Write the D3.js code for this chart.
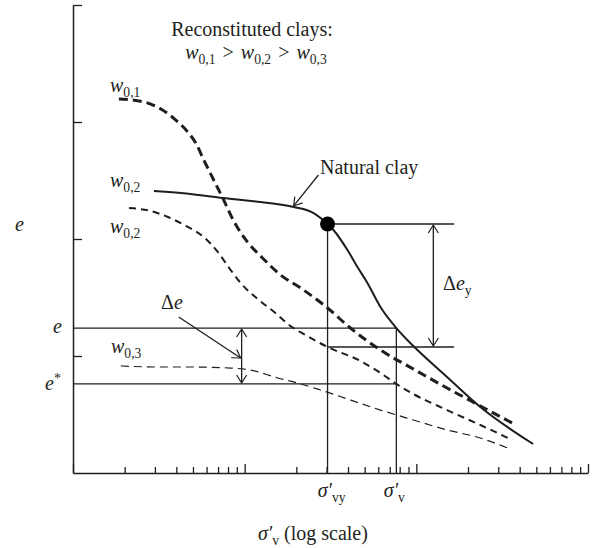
<!DOCTYPE html>
<html>
<head>
<meta charset="utf-8">
<script src="https://cdn.jsdelivr.net/npm/d3@7"></script>
<style>
  body { margin: 0; background: #fff; }
  text { font-family: "Liberation Serif", "Times New Roman", serif; fill: #231f20; }
</style>
</head>
<body>
<script>
// curves as [sigma'v (log scale units), e]
const naturalClay = [[2.96,2.41],[4.85,2.385],[7.45,2.35],[12.4,2.316],[19.3,2.274],[25.2,2.222],[30.4,2.128],
  [32.9,2.077],[39.7,1.906],[45.4,1.761],[51.9,1.624],[61.8,1.419],[76.5,1.239],[96.1,1.085],[151,0.821],[236,0.564],[479,0.248]];
const w01 = [[1.85,3.197],[2.59,3.171],[3.25,3.111],[3.97,3.017],[4.66,2.915],[5.19,2.821],[5.78,2.675],[6.6,2.504],
  [7.55,2.333],[8.63,2.154],[10.4,1.974],[12.7,1.838],[16.2,1.692],[21.2,1.581],[30.4,1.41],[41.3,1.239],[61.8,1.051],
  [96.1,0.889],[151,0.726],[236,0.573],[362,0.427]];
const w02 = [[2.12,2.265],[2.84,2.239],[3.57,2.188],[4.66,2.103],[5.78,2.017],[6.97,1.889],[8.29,1.735],[9.48,1.624],
  [11.9,1.487],[15.1,1.368],[18.5,1.256],[22.6,1.179],[30.4,1.077],[47.3,0.957],[61.8,0.855],[76.5,0.761],[96.1,0.675],
  [151,0.538],[236,0.41],[362,0.282]];
const w03 = [[1.9,0.915],[3.12,0.906],[4.85,0.906],[8.29,0.897],[10.8,0.88],[15.6,0.812],[20.3,0.769],[27.7,0.709],
  [61.8,0.538],[96.1,0.453],[151,0.368],[236,0.299],[340,0.214]];

const yieldPoint = [30.4, 2.128];   // sigma'vy, e at yield
const sigmaV = 76.5;
const eLevel = 1.239;
const eStar = 0.761;
const eAtYieldRecon = 1.077;
const deltaEx = 9.6;
const deltaEyX = 125.6;
const deltaEyEnd = 166;
const yTicks = [1, 2, 3, 4];

const svg = d3.select("body").append("svg")
  .attr("width", 601)
  .attr("height", 548);

const x = d3.scaleLog().domain([1, 1000]).range([73, 588]);
const y = d3.scaleLinear().domain([0, 4]).range([473, 5]);

const ink = "#1e1e1e";

// arrowhead
const defs = svg.append("defs");
defs.append("marker")
  .attr("id", "vee")
  .attr("viewBox", "-10 -6 12 12")
  .attr("refX", 0).attr("refY", 0)
  .attr("markerUnits", "userSpaceOnUse")
  .attr("markerWidth", 12).attr("markerHeight", 12)
  .attr("orient", "auto-start-reverse")
  .append("path")
  .attr("d", "M-8,-5 L0,0 L-8,5")
  .attr("fill", "none")
  .attr("stroke", ink)
  .attr("stroke-width", 1.2);

// axes
const xAxis = svg.append("g")
  .attr("transform", `translate(0,${y(0)})`)
  .call(d3.axisBottom(x).tickSizeInner(-7).tickSizeOuter(0).tickFormat(""));
xAxis.selectAll(".tick line")
  .attr("y2", d => Math.abs(Math.log10(d) - Math.round(Math.log10(d))) < 1e-9 ? -9 : -6);

const yAxis = svg.append("g")
  .attr("transform", `translate(${x(1)},0)`)
  .call(d3.axisLeft(y).tickValues(yTicks).tickSizeInner(-9).tickSizeOuter(0).tickFormat(""));

svg.selectAll(".domain").attr("stroke", ink).attr("stroke-width", 1.5);
svg.selectAll(".tick line").attr("stroke", ink).attr("stroke-width", 1.3);

const line = d3.line()
  .x(d => x(d[0]))
  .y(d => y(d[1]))
  .curve(d3.curveMonotoneX);

// reference lines
const refLines = [
  [[1, eLevel], [sigmaV, eLevel]],
  [[1, eStar], [sigmaV, eStar]],
  [[yieldPoint[0], yieldPoint[1]], [deltaEyEnd, yieldPoint[1]]],
  [[yieldPoint[0], eAtYieldRecon], [deltaEyEnd, eAtYieldRecon]],
  [[yieldPoint[0], yieldPoint[1]], [yieldPoint[0], 0]],
  [[sigmaV, eLevel], [sigmaV, 0]]
];
svg.selectAll(".ref")
  .data(refLines)
  .enter().append("path")
  .attr("class", "ref")
  .attr("d", d3.line().x(d => x(d[0])).y(d => y(d[1])))
  .attr("fill", "none")
  .attr("stroke", ink)
  .attr("stroke-width", 1.3);

// curves
svg.append("path").datum(w03).attr("d", line)
  .attr("fill", "none").attr("stroke", ink).attr("stroke-width", 1.2).attr("stroke-dasharray", "8,5");
svg.append("path").datum(w02).attr("d", line)
  .attr("fill", "none").attr("stroke", ink).attr("stroke-width", 2).attr("stroke-dasharray", "7,5");
svg.append("path").datum(w01).attr("d", line)
  .attr("fill", "none").attr("stroke", ink).attr("stroke-width", 3).attr("stroke-dasharray", "9,5");
svg.append("path").datum(naturalClay).attr("d", line)
  .attr("fill", "none").attr("stroke", ink).attr("stroke-width", 2);

svg.append("circle")
  .attr("cx", x(yieldPoint[0]))
  .attr("cy", y(yieldPoint[1]))
  .attr("r", 7.5)
  .attr("fill", "#000");

// double arrows
const arrow = (x1, y1, x2, y2, both) => svg.append("line")
  .attr("x1", x1).attr("y1", y1).attr("x2", x2).attr("y2", y2)
  .attr("stroke", ink).attr("stroke-width", 1.3)
  .attr("marker-end", "url(#vee)")
  .attr("marker-start", both ? "url(#vee)" : null);

arrow(x(deltaEx), y(eLevel) + 1, x(deltaEx), y(eStar) - 1, true);
arrow(x(deltaEyX), y(yieldPoint[1]) + 1, x(deltaEyX), y(eAtYieldRecon) - 1, true);
// leaders
arrow(x(4.13), y(1.333), x(deltaEx) - 1, y(0.983), false);
arrow(x(26.9), y(2.547), x(19.3), y(2.274) - 1, false);

// labels
function wLabel(px, py, sub, size) {
  const t = svg.append("text").attr("x", px).attr("y", py).style("font-size", size + "px");
  t.append("tspan").style("font-style", "italic").text("w");
  t.append("tspan").attr("dy", 5).style("font-size", (size * 0.68) + "px").text(sub);
  return t;
}

svg.append("text").attr("x", 252).attr("y", 36).attr("text-anchor", "middle")
  .style("font-size", "20px").text("Reconstituted clays:");

const cmp = svg.append("text").attr("x", 256).attr("y", 59).attr("text-anchor", "middle")
  .style("font-size", "20px");
["0,1", "0,2", "0,3"].forEach((s, i) => {
  cmp.append("tspan").attr("dy", i === 0 ? 0 : -5).attr("dx", i === 0 ? 0 : 7)
    .style("font-style", "italic").text("w");
  cmp.append("tspan").attr("dy", 5).style("font-size", "13.6px").text(s);
  if (i < 2) cmp.append("tspan").attr("dy", -5).attr("dx", 7).text(">");
});
cmp.selectAll("tspan").filter((d, i) => i === 3 || i === 6).attr("dy", 0);

wLabel(110, 92, "0,1", 20);
wLabel(110, 187, "0,2", 20);
wLabel(110, 233, "0,2", 20);
wLabel(111, 353, "0,3", 20);

svg.append("text").attr("x", 320).attr("y", 174).style("font-size", "20px").text("Natural clay");

const de = svg.append("text").attr("x", 161).attr("y", 309).style("font-size", "20px");
de.append("tspan").text("\u0394");
de.append("tspan").style("font-style", "italic").text("e");

const dey = svg.append("text").attr("x", 443).attr("y", 290).style("font-size", "20px");
dey.append("tspan").text("\u0394");
dey.append("tspan").style("font-style", "italic").text("e");
dey.append("tspan").attr("dy", 5).style("font-size", "13.6px").text("y");

svg.append("text").attr("x", 15).attr("y", 231).style("font-size", "20px")
  .style("font-style", "italic").text("e");
svg.append("text").attr("x", 62).attr("y", y(eLevel) + 5).attr("text-anchor", "end")
  .style("font-size", "20px").style("font-style", "italic").text("e");
const es = svg.append("text").attr("x", 45).attr("y", y(eStar) + 6).style("font-size", "20px");
es.append("tspan").style("font-style", "italic").text("e");
es.append("tspan").attr("dy", -7).style("font-size", "14px").text("*");

function sigmaLabel(px, py, sub) {
  const t = svg.append("text").attr("x", px).attr("y", py).attr("text-anchor", "middle")
    .style("font-size", "20px");
  t.append("tspan").style("font-style", "italic").text("\u03c3\u2032");
  t.append("tspan").attr("dy", 5).style("font-size", "13.6px").text(sub);
  return t;
}
sigmaLabel(x(yieldPoint[0]) + 4, 497, "vy");
sigmaLabel(x(sigmaV) - 2, 497, "v");

const xt = svg.append("text").attr("x", 258).attr("y", 540).style("font-size", "20px");
xt.append("tspan").style("font-style", "italic").text("\u03c3\u2032");
xt.append("tspan").attr("dy", 5).style("font-size", "13.6px").text("v");
xt.append("tspan").attr("dy", -5).text(" (log scale)");
</script>
</body>
</html>
